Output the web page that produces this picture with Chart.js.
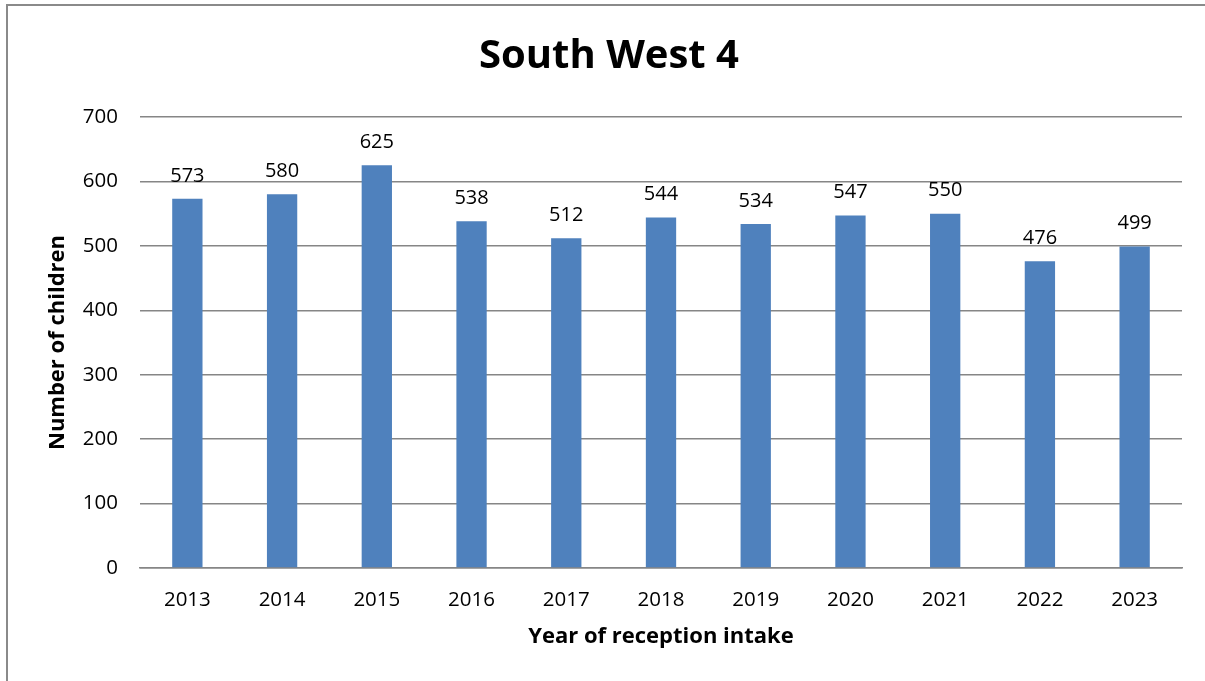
<!DOCTYPE html>
<html>
<head>
<meta charset="utf-8">
<script src="https://cdn.jsdelivr.net/npm/chart.js@4/dist/chart.umd.min.js"></script>
<style>
  html, body { margin: 0; padding: 0; background: #fff; }
  #wrap { position: relative; width: 1205px; height: 681px; overflow: hidden; }
  #frame { position: absolute; left: 6px; top: 4px; width: 1300px; height: 800px;
           border-left: 2px solid #8a8a8a; border-top: 2px solid #8a8a8a; }
  canvas { position: absolute; left: 0; top: 0; }
</style>
</head>
<body>
<div id="wrap">
  <div id="frame"></div>
  <canvas id="c" width="1205" height="681"></canvas>
</div>
<script>
const categories = ['2013','2014','2015','2016','2017','2018','2019','2020','2021','2022','2023'];
const children = [573, 580, 625, 538, 512, 544, 534, 547, 550, 476, 499];
const yTicks = [0, 100, 200, 300, 400, 500, 600, 700];

const FONT = "'Open Sans', 'Liberation Sans', sans-serif";

const valueLabels = {
  id: 'valueLabels',
  afterDatasetsDraw(chart) {
    const ctx = chart.ctx;
    const meta = chart.getDatasetMeta(0);
    ctx.save();
    ctx.font = "20px " + FONT;
    ctx.fillStyle = '#000';
    ctx.textAlign = 'center';
    ctx.textBaseline = 'bottom';
    meta.data.forEach((bar, i) => {
      ctx.fillText(String(chart.data.datasets[0].data[i]), bar.x, bar.y - 13);
    });
    ctx.restore();
  }
};

new Chart(document.getElementById('c'), {
  type: 'bar',
  data: {
    labels: categories,
    datasets: [{
      data: children,
      backgroundColor: '#4F81BD',
      borderWidth: 0,
      categoryPercentage: 1,
      barPercentage: 0.32
    }]
  },
  options: {
    responsive: false,
    animation: false,
    layout: { padding: { left: 36, right: 23, top: 0, bottom: 0 } },
    plugins: {
      legend: { display: false },
      tooltip: { enabled: false },
      title: {
        display: true,
        text: 'South West 4',
        color: '#000',
        font: { family: FONT, size: 40, weight: 'bold', lineHeight: 1.2 },
        padding: { top: 33, bottom: 36 }
      }
    },
    scales: {
      x: {
        grid: { display: false, drawTicks: false },
        border: { display: true, color: '#868686', width: 1.5 },
        ticks: { color: '#000', font: { family: FONT, size: 20.5 }, padding: 20, maxRotation: 0 },
        title: {
          display: true, text: 'Year of reception intake', color: '#000',
          font: { family: FONT, size: 22, weight: 'bold', lineHeight: 1.2 },
          padding: { top: 0, bottom: 31 }
        },
        afterFit(scale) { scale.height = 113; }
      },
      y: {
        min: 0, max: 700,
        afterBuildTicks(scale) { scale.ticks = yTicks.map(v => ({ value: v })); },
        grid: { color: '#868686', lineWidth: 1.5, drawTicks: false },
        border: { display: false },
        ticks: { color: '#000', font: { family: FONT, size: 20.5 }, padding: 22 },
        title: {
          display: true, text: 'Number of children', color: '#000',
          font: { family: FONT, size: 22, weight: 'bold', lineHeight: 1.2 },
          padding: { top: 9, bottom: 0 }
        },
        afterFit(scale) { scale.width = 104; }
      }
    }
  },
  plugins: [valueLabels]
});
</script>
</body>
</html>
